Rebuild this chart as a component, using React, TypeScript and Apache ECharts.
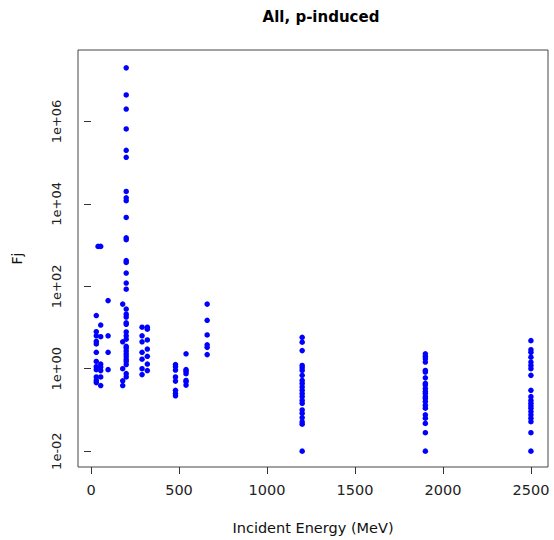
import React, { useEffect, useRef } from "react";
import * as echarts from "echarts";

// Incident energies (MeV) and Fj values, one array per energy column
const energies = [30, 40, 55, 97, 180, 200, 290, 320, 480, 540, 660, 1200, 1900, 2500];

const fj30 = [19.5, 7.9, 6.3, 4.6, 4.0, 2.5, 1.5, 1.12, 0.95, 0.63, 0.52, 0.46];
const fj40 = [930];
const fj55 = [930, 11.5, 6.0, 1.3, 1.1, 0.9, 0.63, 0.39];
const fj97 = [45, 6.3, 2.5, 0.95];
const fj180 = [37, 4.5, 1.0, 0.51, 0.39];
const fj200 = [
  2.0e7, 4.4e6, 2.0e6, 6.6e5, 2.0e5, 1.35e5, 2.0e4, 1.4e4, 1.2e4, 4700, 1500, 1350,
  420, 380, 210, 120, 85, 28, 21, 18, 13, 12, 7.8, 6.3, 5.2, 3.5, 3.2, 2.7, 2.3, 2.0,
  1.7, 1.5, 1.26, 0.76, 0.63,
];
const fj290 = [10.2, 6.3, 4.5, 2.5, 1.7, 1.0, 0.72];
const fj320 = [10.2, 9.1, 5.0, 3.0, 2.0, 1.3, 0.9];
const fj480 = [1.26, 1.12, 0.93, 0.63, 0.5, 0.3, 0.25, 0.22];
const fj540 = [2.3, 0.95, 0.87, 0.76, 0.52, 0.48, 0.4];
const fj660 = [37, 15, 6.6, 3.8, 3.3, 2.2];
const fj1200 = [
  5.8, 4.4, 2.75, 1.2, 1.05, 0.91, 0.69, 0.52, 0.44, 0.36, 0.3, 0.25, 0.21, 0.17,
  0.145, 0.1, 0.083, 0.065, 0.051, 0.045, 0.01,
];
const fj1900 = [
  2.3, 2.0, 1.74, 1.45, 0.91, 0.83, 0.6, 0.44, 0.4, 0.33, 0.28, 0.25, 0.21, 0.19,
  0.16, 0.13, 0.11, 0.076, 0.063, 0.047, 0.028, 0.01,
];
const fj2500 = [
  4.8, 2.9, 2.5, 1.9, 1.45, 1.2, 1.0, 0.69, 0.3, 0.21, 0.17, 0.145, 0.126, 0.11,
  0.091, 0.076, 0.063, 0.052, 0.028, 0.01,
];

const fjByEnergy = [
  fj30, fj40, fj55, fj97, fj180, fj200, fj290, fj320, fj480, fj540, fj660, fj1200, fj1900, fj2500,
];

const xTicks = [0, 500, 1000, 1500, 2000, 2500];
const yTicks = [0.01, 1, 100, 10000, 1000000];
const yTickLabels = ["1e-02", "1e+00", "1e+02", "1e+04", "1e+06"];

const FONT = "DejaVu Sans";

export default function App() {
  const ref = useRef<HTMLDivElement>(null);

  useEffect(() => {
    if (!ref.current) return;
    const chart = echarts.init(ref.current, null, { renderer: "svg" });

    const points: [number, number][] = [];
    energies.forEach((e, i) => {
      fjByEnergy[i].forEach((v) => points.push([e, v]));
    });

    const labelFor = (v: number) => {
      const idx = yTicks.findIndex((t) => Math.abs(Math.log10(t) - Math.log10(v)) < 1e-6);
      return idx >= 0 ? yTickLabels[idx] : "";
    };

    chart.setOption({
      animation: false,
      backgroundColor: "#ffffff",
      title: {
        text: "All, p-induced",
        left: 316,
        top: 4,
        textAlign: "center",
        textStyle: { fontFamily: FONT, fontSize: 15, fontWeight: "bold", color: "#000" },
      },
      grid: {
        left: 78,
        top: 50,
        width: 470,
        height: 420,
        show: true,
        borderColor: "#444",
        borderWidth: 1,
        backgroundColor: "transparent",
      },
      xAxis: {
        type: "value",
        min: -74,
        max: 2597,
        name: "Incident Energy (MeV)",
        nameLocation: "middle",
        nameGap: 53,
        nameTextStyle: { fontFamily: FONT, fontSize: 14.5, color: "#111" },
        axisLine: { show: false },
        splitLine: { show: false },
        axisTick: {
          show: true,
          inside: false,
          length: 7,
          customValues: xTicks,
          lineStyle: { color: "#333" },
        },
        axisLabel: {
          customValues: xTicks,
          margin: 15,
          fontFamily: FONT,
          fontSize: 14.5,
          color: "#222",
          formatter: (v: number) => String(v),
        },
      },
      yAxis: {
        type: "log",
        logBase: 10,
        min: 0.00412,
        max: 5.43e7,
        name: "Fj",
        nameLocation: "middle",
        nameGap: 54,
        nameRotate: 90,
        nameTextStyle: { fontFamily: FONT, fontSize: 14, color: "#111" },
        axisLine: { show: false },
        splitLine: { show: false },
        minorTick: { show: false },
        axisTick: {
          show: true,
          inside: false,
          length: 7,
          customValues: yTicks,
          lineStyle: { color: "#333" },
        },
        axisLabel: {
          customValues: yTicks,
          rotate: 90,
          margin: 15,
          fontFamily: FONT,
          fontSize: 13,
          color: "#222",
          formatter: (v: number) => labelFor(v),
        },
      },
      series: [
        {
          type: "scatter",
          data: points,
          symbol: "circle",
          symbolSize: 5.5,
          itemStyle: { color: "#0000ff", opacity: 1 },
          emphasis: { disabled: true },
        },
      ],
    });

    return () => chart.dispose();
  }, []);

  return (
    <div
      ref={ref}
      style={{ position: "absolute", left: 0, top: 0, width: 554, height: 540, background: "#fff" }}
    />
  );
}
